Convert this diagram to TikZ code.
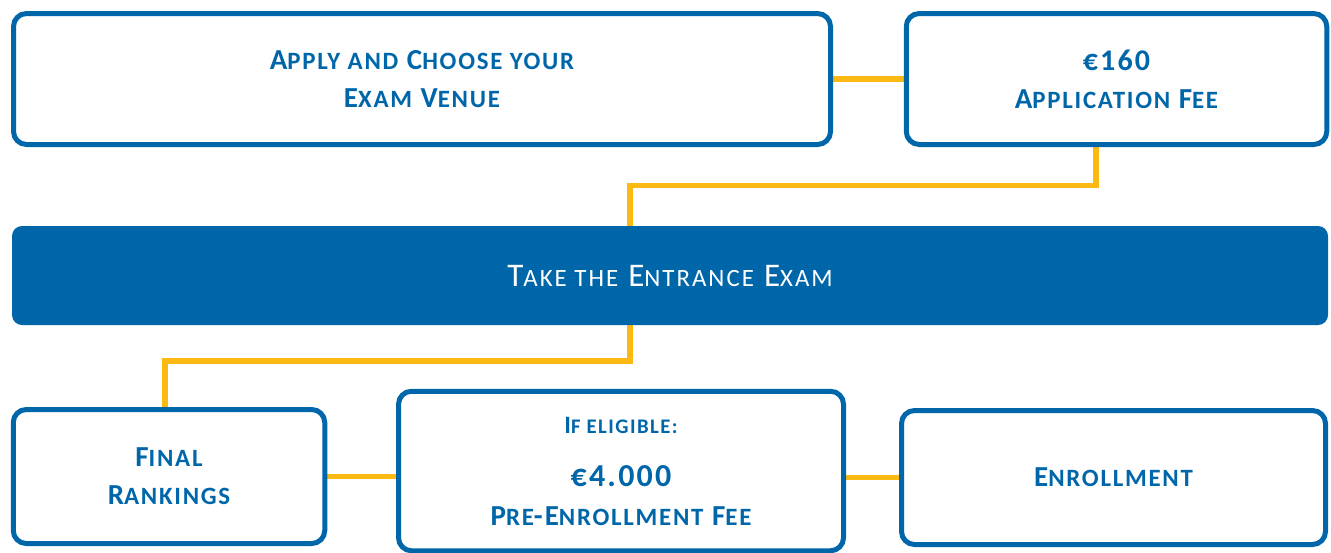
\documentclass[tikz,border=0pt]{standalone}
\usepackage{fontspec}
\usepackage{relsize}
\setmainfont{Carlito}
\usetikzlibrary{backgrounds}
\definecolor{unblue}{RGB}{0,102,170}
\definecolor{unyellow}{RGB}{253,185,19}
\newcommand\fsc[1]{\textscale{.84}{\MakeUppercase{#1}}}
\tikzset{
    stepbox/.style={draw=unblue, line width=5pt, fill=white, rounded corners=13pt,
        align=center, text=unblue, font=\fontsize{29}{38}\selectfont\bfseries\addfontfeature{LetterSpace=7}},
    examblock/.style={fill=unblue, rounded corners=10pt, text=white,
        font=\fontsize{33}{38}\selectfont\addfontfeature{LetterSpace=8}},
    link/.style={draw=unyellow, line width=5.5pt}
}
\begin{document}
\begin{tikzpicture}[x=1pt, y=-1pt]
                \useasboundingbox (0,0) rectangle (1331,552);
                \node[stepbox, minimum width=817pt, minimum height=131pt] (apply) at (422,79) {A\fsc{pply and} C\fsc{hoose your}\\E\fsc{xam} V\fsc{enue}};
                \node[stepbox, minimum width=420.5pt, minimum height=131pt] (fee) at (1116.5,79) {{\fontsize{30}{38}\selectfont €160}\\A\fsc{pplication} F\fsc{ee}};
                \node[examblock, minimum width=1316pt, minimum height=99pt] (exam) at (670,275.5) {T\fsc{ake the} E\fsc{ntrance} E\fsc{xam}};
                \node[stepbox, minimum width=311.5pt, minimum height=134pt] (rank) at (169,476.5) {F\fsc{inal}\\R\fsc{ankings}};
                \node[stepbox, minimum width=445pt, minimum height=159.5pt] (pre) at (621,471) {{\fontsize{25}{30}\selectfont I\fsc{f eligible:}}\\[15pt]{\fontsize{32}{38}\selectfont €4.000}\\[1pt]P\fsc{re}-E\fsc{nrollment} F\fsc{ee}};
                \node[stepbox, minimum width=424pt, minimum height=134pt] (enrol) at (1113.5,477.5) {E\fsc{nrollment}};
                \coordinate (up1) at (1096,185.5);
                \coordinate (up2) at (630,185.5);
                \coordinate (dn1) at (630,361);
                \coordinate (dn2) at (165,361);
                \begin{scope}[on background layer]
                    \draw[link] (apply.east) -- (fee.west);
                    \draw[link] (up1 |- fee.south) -- (up1) -- (up2) -- (up2 |- exam.north);
                    \draw[link] (dn1 |- exam.south) -- (dn1) -- (dn2) -- (dn2 |- rank.north);
                    \draw[link] (rank.east) -- (rank.east -| pre.west);
                    \draw[link] (enrol.west -| pre.east) -- (enrol.west);
                \end{scope}
            \end{tikzpicture}
\end{document}
